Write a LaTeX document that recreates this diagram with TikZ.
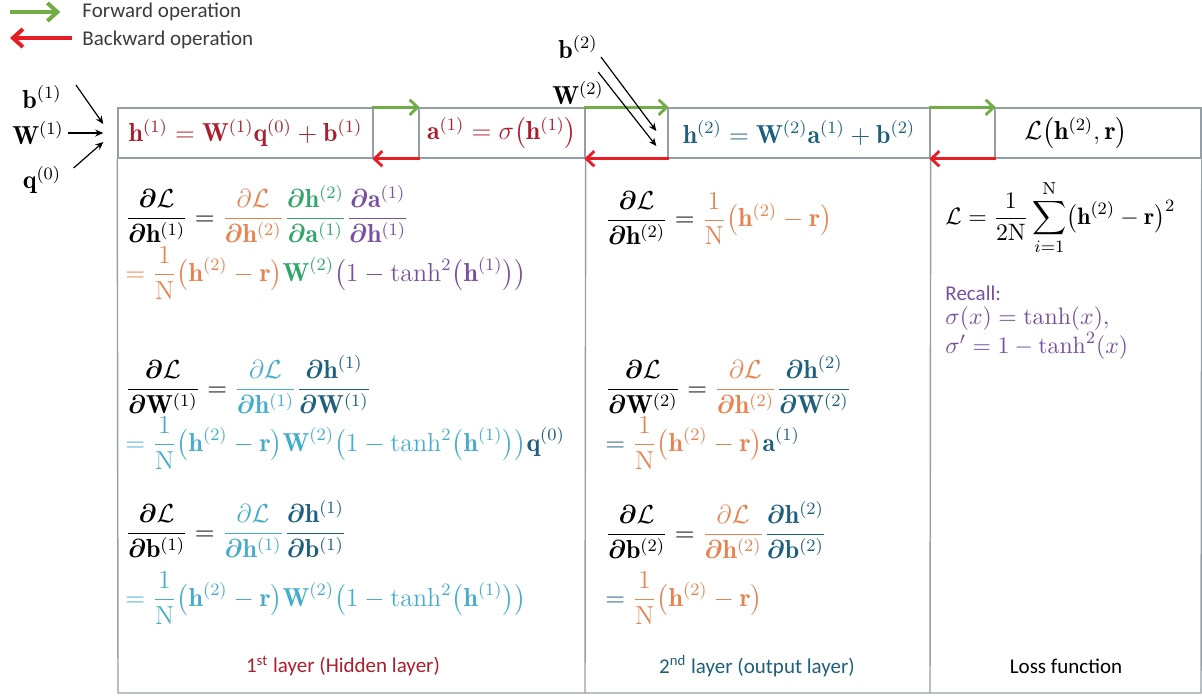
\documentclass[tikz,border=0pt]{standalone}
\usepackage{amsmath}
\usepackage{bm}
\usepackage{fontspec}
\newfontfamily\calib{Carlito}
\usetikzlibrary{arrows.meta}
\definecolor{linegray}{RGB}{150,158,165}
\definecolor{fgreen}{RGB}{112,173,71}
\definecolor{bred}{RGB}{232,28,36}
\definecolor{dred}{RGB}{170,30,45}
\definecolor{dteal}{RGB}{30,95,125}
\definecolor{eorange}{RGB}{233,130,80}
\definecolor{egreen}{RGB}{50,165,105}
\definecolor{epurple}{RGB}{120,80,160}
\definecolor{ecyan}{RGB}{70,172,205}
\definecolor{txtgray}{RGB}{60,60,60}
\newcommand{\Pd}{\bm{\partial}}
\newcommand{\cL}{\mathcal{L}}
\newcommand{\vh}{\mathbf{h}}
\newcommand{\vW}{\mathbf{W}}
\newcommand{\va}{\mathbf{a}}
\newcommand{\vb}{\mathbf{b}}
\newcommand{\vq}{\mathbf{q}}
\newcommand{\vr}{\mathbf{r}}
\newcommand{\oN}{\mathrm{N}}
\tikzset{
  gl/.style={draw=linegray, line width=0.65pt},
  hbox/.style={draw=linegray, line width=0.65pt, inner sep=0pt, minimum height=23.08pt, font=\fontsize{12}{14}\selectfont},
  fwd/.style={draw=fgreen, line width=1.3pt, -{Straight Barb[length=3.7pt,width=7pt]}},
  bwd/.style={draw=bred, line width=1.3pt, -{Straight Barb[length=3.7pt,width=7pt]}},
  legf/.style={draw=fgreen, line width=1.85pt, -{Straight Barb[length=4.6pt,width=8.3pt]}},
  legb/.style={draw=bred, line width=1.85pt, -{Straight Barb[length=4.6pt,width=8.3pt]}},
  inarr/.style={draw=black, line width=0.55pt, -{Stealth[length=3.7pt,width=3.2pt]}},
  eq/.style={anchor=west, inner sep=0pt, font=\fontsize{12}{14}\selectfont},
  inlab/.style={inner sep=0pt, font=\fontsize{12}{14}\selectfont},
  lab/.style={inner sep=0pt, font=\calib\fontsize{9.7}{11}\selectfont},
}
\begin{document}
\begin{tikzpicture}[x=0.46154pt,y=-0.46154pt]
\useasboundingbox (0,0) rectangle (1202,698);
% legend
\coordinate (lf) at (10,12);
\coordinate (lb) at (72,38);
\node[lab, anchor=west, text=txtgray] (fl) at (82,12) {Forward operation};
\node[lab, anchor=west, text=txtgray] (bl) at (82,40) {Backward operation};
\draw[legf] (lf) -- ([xshift=-10]fl.west |- lf);
\draw[legb] (lb) -- (10,38);
% header boxes
\node[hbox, minimum width=117.7pt, text=dred] (H1) at (245.5,133) {$\vh^{(1)}=\vW^{(1)}\vq^{(0)}+\vb^{(1)}$};
\node[hbox, minimum width=21.2pt] (G1) at (396,133) {};
\node[hbox, minimum width=76.6pt, text=dred] (A1) at (502,133) {$\va^{(1)}=\sigma\bigl(\vh^{(1)}\bigr)$};
\node[hbox, minimum width=38.3pt] (G2) at (626.5,133) {};
\node[hbox, minimum width=120.9pt, text=dteal] (H2) at (799,133) {$\vh^{(2)}=\vW^{(2)}\va^{(1)}+\vb^{(2)}$};
\node[hbox, minimum width=30pt] (G3) at (962.5,133) {};
\node[hbox, minimum width=95.1pt] (LB) at (1098,133) {};
\node[inlab] (Lt) at (1076,133) {$\cL\bigl(\vh^{(2)},\vr\bigr)$};
% body frame
\draw[gl] (H1.south west) -- (118,693) -- (1201,693) -- (LB.south east);
\draw[gl] (A1.south east) -- (585,693);
\draw[gl] (H2.south east) -- (930,693);
% forward / backward arrows
\foreach \g in {G1,G2,G3}{
  \draw[fwd] (\g.north west) -- (\g.north east);
  \draw[bwd] (\g.south east) -- (\g.south west);
}
% inputs layer 1
\node[inlab] (b1) at (42,97) {$\vb^{(1)}$};
\node[inlab] (W1) at (38,133) {$\vW^{(1)}$};
\node[inlab] (q0) at (42,180) {$\vq^{(0)}$};
\draw[inarr] ([shift={(14,-12)}]b1.east) -- ([shift={(-14,-9)}]H1.west);
\draw[inarr] ([shift={(4,0)}]W1.east) -- ([shift={(-14,0)}]H1.west);
\draw[inarr] ([shift={(12,-12)}]q0.east) -- ([shift={(-14,9)}]H1.west);
% inputs layer 2
\node[inlab] (b2) at (578,47) {$\vb^{(2)}$};
\node[inlab] (W2) at (578,93) {$\vW^{(2)}$};
\draw[inarr] ([shift={(3,10)}]b2.east) -- ([shift={(-11,-2)}]H2.west);
\draw[inarr] ([shift={(-6,-21)}]W2.east) -- ([shift={(-11,13)}]H2.west);
% column 1
\node[eq] (e11) at (125,214) {$\displaystyle\frac{\Pd\cL}{\Pd\vh^{(1)}}=
 {\color{eorange}\frac{\partial\cL}{\Pd\vh^{(2)}}}
 {\color{egreen}\frac{\Pd\vh^{(2)}}{\Pd\va^{(1)}}}
 {\color{epurple}\frac{\Pd\va^{(1)}}{\Pd\vh^{(1)}}}$};
\node[eq] (e12) at (125,273) {$\displaystyle\color{eorange}=\frac{1}{\oN}\bigl(\vh^{(2)}-\vr\bigr){\color{egreen}\vW^{(2)}}{\color{epurple}\bigl(1-\tanh^2\bigl(\vh^{(1)}\bigr)\bigr)}$};
\node[eq] (e21) at (125,385) {$\displaystyle\frac{\Pd\cL}{\Pd\vW^{(1)}}=
 {\color{ecyan}\frac{\partial\cL}{\Pd\vh^{(1)}}}
 {\color{dteal}\frac{\Pd\vh^{(1)}}{\Pd\vW^{(1)}}}$};
\node[eq] (e22) at (125,443) {$\displaystyle\color{ecyan}=\frac{1}{\oN}\bigl(\vh^{(2)}-\vr\bigr)\vW^{(2)}\bigl(1-\tanh^2\bigl(\vh^{(1)}\bigr)\bigr){\color{dteal}\vq^{(0)}}$};
\node[eq] (e31) at (125,529) {$\displaystyle\frac{\Pd\cL}{\Pd\vb^{(1)}}=
 {\color{ecyan}\frac{\partial\cL}{\Pd\vh^{(1)}}}
 {\color{dteal}\frac{\Pd\vh^{(1)}}{\Pd\vb^{(1)}}}$};
\node[eq] (e32) at (125,598) {$\displaystyle\color{ecyan}=\frac{1}{\oN}\bigl(\vh^{(2)}-\vr\bigr)\vW^{(2)}\bigl(1-\tanh^2\bigl(\vh^{(1)}\bigr)\bigr)$};
% column 2
\node[eq] (f11) at (605,218) {$\displaystyle\frac{\Pd\cL}{\Pd\vh^{(2)}}={\color{eorange}\frac{1}{\oN}\bigl(\vh^{(2)}-\vr\bigr)}$};
\node[eq] (f21) at (605,385) {$\displaystyle\frac{\Pd\cL}{\Pd\vW^{(2)}}=
 {\color{eorange}\frac{\partial\cL}{\Pd\vh^{(2)}}}
 {\color{dteal}\frac{\Pd\vh^{(2)}}{\Pd\vW^{(2)}}}$};
\node[eq] (f22) at (605,443) {$\displaystyle\color{dteal}={\color{eorange}\frac{1}{\oN}\bigl(\vh^{(2)}-\vr\bigr)}\va^{(1)}$};
\node[eq] (f31) at (605,530) {$\displaystyle\frac{\Pd\cL}{\Pd\vb^{(2)}}=
 {\color{eorange}\frac{\partial\cL}{\Pd\vh^{(2)}}}
 {\color{dteal}\frac{\Pd\vh^{(2)}}{\Pd\vb^{(2)}}}$};
\node[eq] (f32) at (605,598) {$\displaystyle\color{dteal}={\color{eorange}\frac{1}{\oN}\bigl(\vh^{(2)}-\vr\bigr)}$};
% column 3
\node[eq, font=\fontsize{10.95}{13}\selectfont] (g1) at (945,218) {$\displaystyle\cL=\frac{1}{2\oN}\sum_{i=1}^{\oN}\bigl(\vh^{(2)}-\vr\bigr)^2$};
\node[lab, anchor=west, text=epurple] (rc) at (945,293) {Recall:};
\node[eq, font=\fontsize{10.95}{13}\selectfont, text=epurple] (g2) at (945,319) {$\sigma(x)=\tanh(x),$};
\node[eq, font=\fontsize{10.95}{13}\selectfont, text=epurple] (g3) at (945,346) {$\sigma'=1-\tanh^2(x)$};
% bottom labels
\node[lab, text=dred] (c1) at (343,666) {1\textsuperscript{st} layer (Hidden layer)};
\node[lab, text=dteal] (c2) at (757,666) {2\textsuperscript{nd} layer (output layer)};
\node[lab, text=black] (c3) at (1066,666) {Loss function};
\end{tikzpicture}
\end{document}
